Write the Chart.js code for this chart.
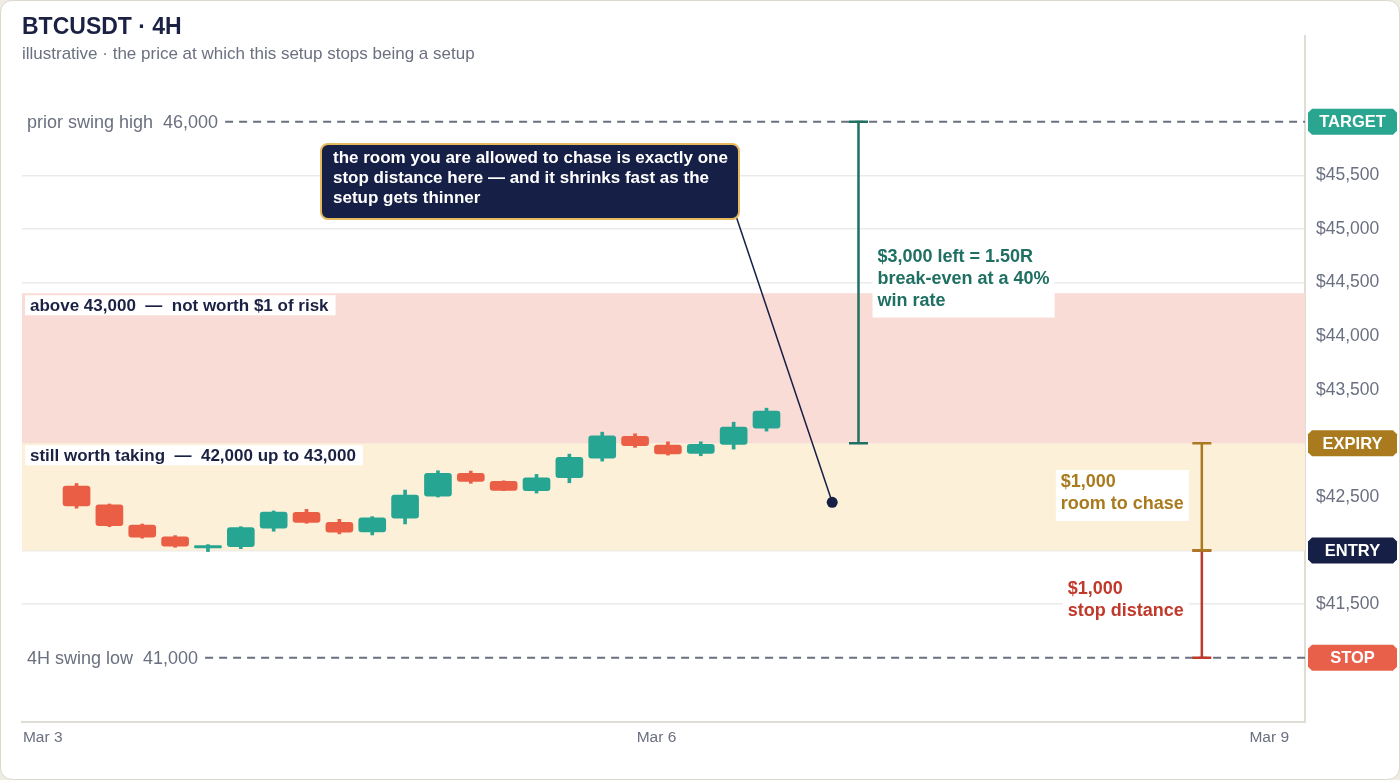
<!DOCTYPE html>
<html>
<head>
<meta charset="utf-8">
<title>BTCUSDT 4H</title>
<script src="https://cdn.jsdelivr.net/npm/chart.js@4.4.1/dist/chart.umd.min.js"></script>
<style>
    html, body { margin: 0; padding: 0; background: #efece3; }
    #card {
        position: absolute; left: 0; top: 0; width: 1400px; height: 780px;
        box-sizing: border-box; background: #fff;
        border: 1.5px solid #dcd8cb; border-radius: 12px;
    }
    #chart { position: absolute; left: 0; top: 0; }
    .ttl {
        position: absolute; left: 22px; margin: 0; white-space: nowrap;
        font-family: "Liberation Sans", Arial, sans-serif;
    }
    #title { top: 15px; font-size: 23px; line-height: 23px; font-weight: bold; color: #1b2142; }
    #subtitle { top: 45px; font-size: 17px; line-height: 17px; color: #6b7080; }
</style>
</head>
<body>
<div id="card"></div>
<canvas id="chart" width="1400" height="780"></canvas>
<div class="ttl" id="title">BTCUSDT · 4H</div>
<div class="ttl" id="subtitle">illustrative · the price at which this setup stops being a setup</div>
<script>
"use strict";

// 4H candles
var candleIdx = [0, 1, 2, 3, 4, 5, 6, 7, 8, 9, 10, 11, 12, 13, 14, 15, 16, 17, 18, 19, 20, 21];
var opens  = [42600, 42425, 42238, 42127, 42024, 42036, 42208, 42357, 42263, 42173, 42301, 42508, 42720, 42645, 42558, 42679, 42862, 43064, 42983, 42906, 42990, 43142];
var highs  = [42625, 42434, 42247, 42139, 42055, 42222, 42369, 42384, 42291, 42316, 42564, 42744, 42741, 42650, 42710, 42899, 43104, 43089, 43014, 43014, 43197, 43328];
var lows   = [42395, 42222, 42115, 42030, 41990, 42017, 42180, 42254, 42155, 42145, 42248, 42499, 42627, 42558, 42536, 42632, 42834, 42962, 42890, 42884, 42946, 43114];
var closes = [42415, 42232, 42124, 42040, 42045, 42213, 42359, 42263, 42170, 42304, 42518, 42720, 42645, 42561, 42679, 42869, 43070, 42977, 42902, 42990, 43151, 43300];

var xTickPos = [-1.03, 17.65, 36.3];
var xTickLabels = ['Mar 3', 'Mar 6', 'Mar 9'];
var yTicks = [41000, 41500, 42000, 42500, 43000, 43500, 44000, 44500, 45000, 45500, 46000];

var badgeLevels = [46000, 43000, 42000, 41000];
var badgeLabels = ['TARGET', 'EXPIRY', 'ENTRY', 'STOP'];

var swingLevels = [46000, 41000];
var swingLabels = ['prior swing high  46,000', '4H swing low  41,000'];

var zoneLow = [43000, 42000];
var zoneHigh = [44400, 43000];
var zoneLabels = ['above 43,000  \u2014  not worth $1 of risk', 'still worth taking  \u2014  42,000 up to 43,000'];

var bracketAt = [23.8, 34.25, 34.25];
var bracketLow = [43000, 41000, 42000];
var bracketHigh = [46000, 42000, 43000];
var bracketText = [
    ['$3,000 left = 1.50R', 'break-even at a 40%', 'win rate'],
    ['$1,000', 'stop distance'],
    ['$1,000', 'room to chase']
];

var pinX = [23.0];
var pinY = [42450];
var calloutText = [
    'the room you are allowed to chase is exactly one',
    'stop distance here \u2014 and it shrinks fast as the',
    'setup gets thinner'
];

// styles
var FONT = '"Liberation Sans", Arial, sans-serif';
var UP = '#27a593';
var DOWN = '#eb5e46';
var INK = '#1b2142';
var MUTED = '#6b7080';
var NAVY = '#161f45';
var badgeColors = ['#2aa590', '#a97b1e', '#161f45', '#e8604a'];
var zoneFills = ['#fadcd6', '#fcf0d8'];
var bracketColors = ['#1f6f62', '#c0392b', '#a97b1e'];
var bracketSide = ['right', 'left', 'left'];

function xPx(chart, v) { return chart.scales.x.getPixelForValue(v); }
function yPx(chart, v) { return chart.scales.y.getPixelForValue(v); }

function roundRect(ctx, x, y, w, h, r) {
    ctx.beginPath();
    ctx.moveTo(x + r, y);
    ctx.arcTo(x + w, y, x + w, y + h, r);
    ctx.arcTo(x + w, y + h, x, y + h, r);
    ctx.arcTo(x, y + h, x, y, r);
    ctx.arcTo(x, y, x + w, y, r);
    ctx.closePath();
}

function calloutBox(chart) {
    var a = chart.chartArea;
    return { x: a.left + 299, y: a.top + 108, w: 418, h: 75 };
}

var annotations = {
    id: 'annotations',
    beforeDatasetsDraw: function(chart) {
        var ctx = chart.ctx, a = chart.chartArea;
        ctx.save();
        // zones sit over the grid
        zoneLow.forEach(function(lo, i) {
            var top = yPx(chart, zoneHigh[i]), bot = yPx(chart, lo);
            ctx.fillStyle = zoneFills[i];
            ctx.fillRect(a.left, top, a.right - a.left, bot - top);
        });
        ctx.font = 'bold 17px ' + FONT;
        ctx.textAlign = 'left';
        ctx.textBaseline = 'alphabetic';
        zoneLabels.forEach(function(t, i) {
            var top = yPx(chart, zoneHigh[i]) + 2;
            var w = ctx.measureText(t).width;
            ctx.fillStyle = '#fff';
            ctx.fillRect(a.left + 3, top, w + 12, 20);
            ctx.fillStyle = INK;
            ctx.fillText(t, a.left + 8, top + 16);
        });
        // swing levels
        ctx.font = '18px ' + FONT;
        ctx.textBaseline = 'middle';
        swingLevels.forEach(function(v, i) {
            var y = yPx(chart, v);
            var w = ctx.measureText(swingLabels[i]).width;
            ctx.fillStyle = MUTED;
            ctx.fillText(swingLabels[i], a.left + 5, y + 1);
            ctx.strokeStyle = MUTED;
            ctx.lineWidth = 2;
            ctx.setLineDash([8, 6]);
            ctx.beginPath();
            ctx.moveTo(a.left + 5 + w + 7, y);
            ctx.lineTo(a.right, y);
            ctx.stroke();
            ctx.setLineDash([]);
        });
        // leader from callout to the pin
        var b = calloutBox(chart);
        ctx.strokeStyle = NAVY;
        ctx.lineWidth = 1.5;
        ctx.beginPath();
        ctx.moveTo(b.x + b.w - 3, b.y + b.h - 3);
        ctx.lineTo(xPx(chart, pinX[0]), yPx(chart, pinY[0]));
        ctx.stroke();
        ctx.restore();
    },
    afterDatasetsDraw: function(chart) {
        var ctx = chart.ctx;
        ctx.save();
        bracketLow.forEach(function(lo, i) {
            var x = xPx(chart, bracketAt[i]);
            var y1 = yPx(chart, bracketHigh[i]), y2 = yPx(chart, lo);
            ctx.strokeStyle = bracketColors[i];
            ctx.lineWidth = 2.5;
            ctx.beginPath();
            ctx.moveTo(x, y1); ctx.lineTo(x, y2);
            ctx.moveTo(x - 9.5, y1); ctx.lineTo(x + 9.5, y1);
            ctx.moveTo(x - 9.5, y2); ctx.lineTo(x + 9.5, y2);
            ctx.stroke();

            var lines = bracketText[i];
            ctx.font = 'bold 18px ' + FONT;
            ctx.textAlign = 'left';
            ctx.textBaseline = 'alphabetic';
            var w = Math.max.apply(null, lines.map(function(t) { return ctx.measureText(t).width; }));
            var mid = (y1 + y2) / 2;
            var b1 = mid - (lines.length - 1) * 11 + 1;
            var bl = b1 + (lines.length - 1) * 22;
            var bx = bracketSide[i] === 'right' ? x + 14 : x - 13 - (w + 10);
            ctx.fillStyle = '#fff';
            ctx.fillRect(bx, b1 - 17, w + 10, bl + 12 - (b1 - 17));
            ctx.fillStyle = bracketColors[i];
            lines.forEach(function(t, k) { ctx.fillText(t, bx + 5, b1 + 22 * k); });
        });

        // callout
        var b = calloutBox(chart);
        roundRect(ctx, b.x, b.y, b.w, b.h, 7);
        ctx.fillStyle = NAVY;
        ctx.fill();
        ctx.strokeStyle = '#e5b95c';
        ctx.lineWidth = 2;
        ctx.stroke();
        ctx.fillStyle = '#fff';
        ctx.font = 'bold 17px ' + FONT;
        ctx.textAlign = 'left';
        ctx.textBaseline = 'alphabetic';
        calloutText.forEach(function(t, k) { ctx.fillText(t, b.x + 12, b.y + 18.5 + 20.3 * k); });
        ctx.restore();
    },
    afterDraw: function(chart) {
        var ctx = chart.ctx, a = chart.chartArea;
        ctx.save();
        ctx.font = 'bold 16.5px ' + FONT;
        ctx.textAlign = 'center';
        ctx.textBaseline = 'middle';
        badgeLevels.forEach(function(v, i) {
            var y = yPx(chart, v);
            var x0 = a.right + 3, w = 89, h = 26, c = 4;
            var t = y - h / 2;
            ctx.beginPath();
            ctx.moveTo(x0 + c, t);
            ctx.lineTo(x0 + w - c, t);
            ctx.lineTo(x0 + w, t + c);
            ctx.lineTo(x0 + w, t + h - c);
            ctx.lineTo(x0 + w - c, t + h);
            ctx.lineTo(x0 + c, t + h);
            ctx.lineTo(x0, t + h - c);
            ctx.lineTo(x0, t + c);
            ctx.closePath();
            ctx.fillStyle = badgeColors[i];
            ctx.fill();
            ctx.fillStyle = '#fff';
            ctx.fillText(badgeLabels[i], x0 + w / 2, y + 1);
        });
        ctx.restore();
    }
};

function candleColor(c) {
    var i = c.dataIndex;
    return closes[i] >= opens[i] ? UP : DOWN;
}

Chart.defaults.font.family = FONT;

var chart = new Chart(document.getElementById('chart'), {
    type: 'bar',
    data: {
        datasets: [{
            type: 'scatter',
            label: 'pin',
            data: pinX.map(function(x, i) { return { x: x, y: pinY[i] }; }),
            pointRadius: 5.5,
            pointBackgroundColor: NAVY,
            pointBorderWidth: 0,
            order: 0
        }, {
            label: 'body',
            data: candleIdx.map(function(x, i) { return { x: x, y: [opens[i], closes[i]] }; }),
            backgroundColor: candleColor,
            barThickness: 27,
            borderRadius: 3,
            borderSkipped: false,
            grouped: false,
            order: 1
        }, {
            label: 'wick',
            data: candleIdx.map(function(x, i) { return { x: x, y: [lows[i], highs[i]] }; }),
            backgroundColor: candleColor,
            barThickness: 3,
            grouped: false,
            order: 2
        }]
    },
    options: {
        responsive: false,
        animation: false,
        layout: { padding: { left: 22, top: 36, right: 0, bottom: 0 } },
        plugins: {
            legend: { display: false },
            tooltip: { enabled: false },
            title: { display: false }
        },
        scales: {
            x: {
                type: 'linear',
                min: -1.66,
                max: 37.39,
                offset: false,
                grid: { offset: false, color: 'rgba(0,0,0,0)', drawTicks: false },
                border: { display: true, color: '#e0ddd4', width: 2 },
                afterBuildTicks: function(scale) {
                    scale.ticks = xTickPos.map(function(v) { return { value: v }; });
                },
                afterFit: function(scale) { scale.height = 58; },
                ticks: {
                    autoSkip: false,
                    maxRotation: 0,
                    padding: 6,
                    color: MUTED,
                    font: { size: 15.5 },
                    callback: function(v, i) { return xTickLabels[i]; }
                }
            },
            y: {
                position: 'right',
                min: 40400,
                max: 46800,
                grid: {
                    drawTicks: false,
                    lineWidth: 1.5,
                    color: function(c) {
                        return swingLevels.indexOf(c.tick && c.tick.value) >= 0 ? 'rgba(0,0,0,0)' : '#ebebeb';
                    }
                },
                border: { display: true, color: '#e0ddd4', width: 2 },
                afterBuildTicks: function(scale) {
                    scale.ticks = yTicks.map(function(v) { return { value: v }; });
                },
                afterFit: function(scale) { scale.width = 95; },
                ticks: {
                    padding: 11,
                    color: MUTED,
                    font: { size: 17.5 },
                    callback: function(v) {
                        if (badgeLevels.indexOf(v) >= 0) return '';
                        return '$' + v.toLocaleString('en-US');
                    }
                }
            }
        }
    },
    plugins: [annotations]
});
</script>
</body>
</html>
